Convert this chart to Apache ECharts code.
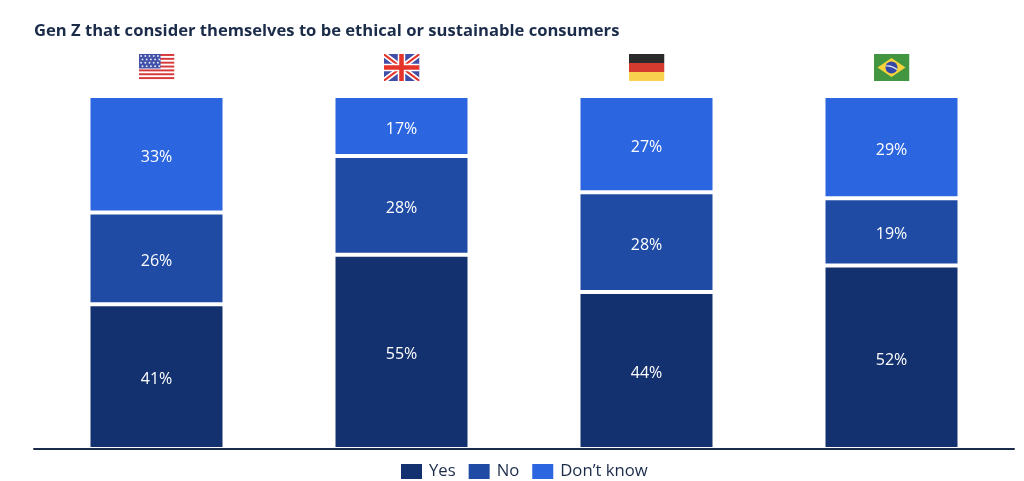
<!DOCTYPE html>
<html><head><meta charset="utf-8">
<style>html,body{margin:0;padding:0;background:#fff}#c{width:1024px;height:481px}</style>
<script src="https://cdn.jsdelivr.net/npm/echarts@6/dist/echarts.min.js"></script>
</head><body><div id="c"></div>
<script>
const countries = ['United States','United Kingdom','Germany','Brazil'];
const yes = [41,55,44,52];
const no = [26,28,28,19];
const dontKnow = [33,17,27,29];
const seriesNames = ['Yes','No','Don\u2019t know'];
const title = 'Gen Z that consider themselves to be ethical or sustainable consumers';

const svg = s => 'data:image/svg+xml;charset=utf-8,' + encodeURIComponent(s);
function usFlag(){
  let r='<rect width="36" height="27" fill="#fff"/>';
  for(let i=0;i<7;i++) r+=`<rect y="${i*3.857}" width="36" height="1.93" fill="#d8373a"/>`;
  r+='<rect width="22" height="14.5" fill="#4150a8"/>';
  for(let row=0;row<4;row++)for(let col=0;col<5;col++) r+=`<circle cx="${2.6+col*4.2+(row%2)*1.4}" cy="${2+row*3.4}" r="0.95" fill="#e6e9f5"/>`;
  return svg(`<svg xmlns="http://www.w3.org/2000/svg" width="36" height="27" viewBox="0 0 36 27">${r}</svg>`);
}
const ukFlag = svg('<svg xmlns="http://www.w3.org/2000/svg" width="36" height="27" viewBox="0 0 36 27"><rect width="36" height="27" fill="#3f4fa8"/><path d="M0 0L36 27M36 0L0 27" stroke="#fff" stroke-width="5.5"/><path d="M0 0L36 27M36 0L0 27" stroke="#e5352b" stroke-width="2"/><path d="M18 0V27M0 13.5H36" stroke="#fff" stroke-width="7.5"/><path d="M18 0V27M0 13.5H36" stroke="#e5352b" stroke-width="4.6"/></svg>');
const deFlag = svg('<svg xmlns="http://www.w3.org/2000/svg" width="36" height="27" viewBox="0 0 36 27"><rect width="36" height="9" fill="#2a2a2a"/><rect y="9" width="36" height="9" fill="#d63b2f"/><rect y="18" width="36" height="9" fill="#f8d24f"/></svg>');
const brFlag = svg('<svg xmlns="http://www.w3.org/2000/svg" width="36" height="27" viewBox="0 0 36 27"><rect width="36" height="27" fill="#439640"/><path d="M18 4L32 13.5L18 23L4 13.5Z" fill="#f6d33c"/><circle cx="18" cy="13.5" r="6" fill="#3446a8"/><path d="M12.3 12Q18 11 23.6 15.5" stroke="#dfe6e8" stroke-width="1.2" fill="none"/></svg>');
const flags = [usFlag(),ukFlag,deFlag,brFlag];

const colors = ['#14316f','#1f4ba5','#2b65df'];
const values = [yes,no,dontKnow];
// The source chart fills each column to full height, even where rounded labels do not sum to 100.
const totals = countries.map((c,j)=>values.reduce((s,v)=>s+v[j],0));
const chart = echarts.init(document.getElementById('c'),null,{renderer:'canvas'});
const font = '"Open Sans"';
chart.setOption({
  animation:false,
  backgroundColor:'#fff',
  color:colors,
  title:{text:title,left:34,top:20,padding:0,textStyle:{fontFamily:font,fontWeight:700,fontSize:16.6,color:'#1b2c4a',lineHeight:22}},
  legend:{left:401,top:463,padding:0,itemWidth:21,itemHeight:15,itemGap:13,icon:'rect',
    textStyle:{fontFamily:font,fontSize:16.7,color:'#1b2c4a',padding:[1,0,0,2]},
    itemStyle:{borderWidth:0},data:seriesNames},
  grid:{left:34,right:10,top:96,bottom:32,containLabel:false},
  xAxis:{type:'category',data:countries,offset:1,z:5,axisTick:{show:false},axisLabel:{show:false},
    axisLine:{show:true,lineStyle:{color:'#1b2c4a',width:2}}},
  yAxis:{type:'value',min:0,max:100,show:false},
  series:seriesNames.map((n,i)=>({
    name:n,type:'bar',stack:'total',barWidth:136,
    data:values[i].map((v,j)=>({value:v/totals[j]*100,shown:v})),
    itemStyle:{color:colors[i],borderColor:'#fff',borderWidth:2},
    label:{show:true,position:'inside',offset:[0,3],formatter:p=>p.data.shown+'%',color:'#fff',fontFamily:font,fontSize:16}
  }))
});
chart.setOption({graphic:countries.map((c,i)=>({
  type:'image',x:chart.convertToPixel({xAxisIndex:0},c)-18,y:54,
  style:{image:flags[i],width:36,height:27}
}))});
</script></body></html>
